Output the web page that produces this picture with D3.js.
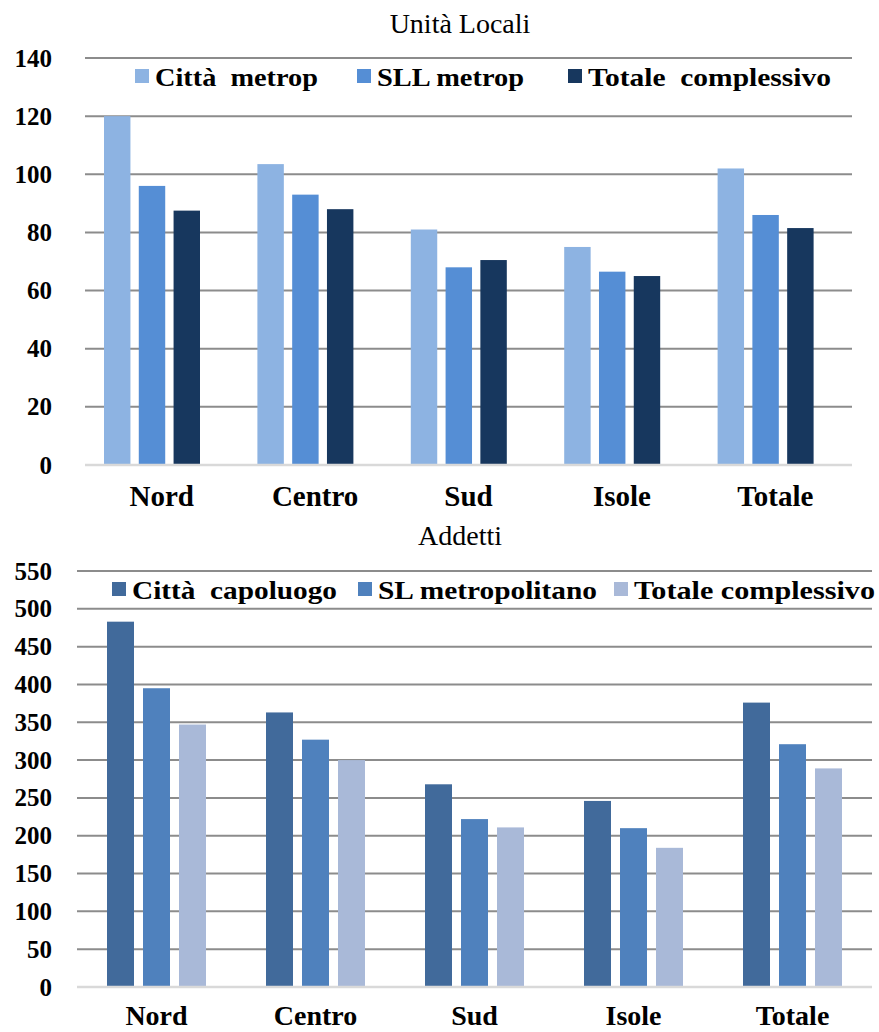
<!DOCTYPE html>
<html><head><meta charset="utf-8">
<script src="https://cdn.jsdelivr.net/npm/d3@7"></script>
<style>body{margin:0;background:#fff}svg{display:block}
text{font-family:"Liberation Serif","Times New Roman","DejaVu Serif",serif}</style>
</head><body>
<script>
const categories = ["Nord","Centro","Sud","Isole","Totale"];
// Chart 1: Unità Locali
const ulSeries = ["Città  metrop","SLL metrop","Totale  complessivo"];
const ulCitta  = [120, 103.5, 81, 75, 102];
const ulSLL    = [96, 93, 68, 66.5, 86];
const ulTotale = [87.5, 88, 70.5, 65, 81.5];
const ulTicks  = [0,20,40,60,80,100,120,140];
// Chart 2: Addetti
const adSeries = ["Città  capoluogo","SL metropolitano","Totale complessivo"];
const adCitta  = [483, 363, 268, 246, 376];
const adSL     = [395, 327, 222, 210, 321];
const adTotale = [347, 300, 211, 184, 289];
const adTicks  = [0,50,100,150,200,250,300,350,400,450,500,550];

const W=879,H=1032;
const svg=d3.select("body").append("svg").attr("width",W).attr("height",H);

function chart(cfg){
  const g=svg.append("g");
  const x=d3.scaleBand().domain(categories).range([cfg.x0,cfg.x1]);
  const y=d3.scaleLinear().domain([0,cfg.max]).range([cfg.yb,cfg.yt]);
  g.append("text").attr("x",cfg.titleX).attr("y",cfg.titleY).attr("text-anchor","middle")
   .style("font-size","28px").attr("fill","#000").text(cfg.title);
  const yAxis=d3.axisLeft(y).tickValues(cfg.ticks).tickSize(0).tickPadding(0);
  const ax=g.append("g").attr("transform",`translate(${cfg.tickX},0)`).call(yAxis);
  ax.attr("font-family",null).attr("font-size",null);
  ax.select(".domain").remove();
  ax.selectAll("text").style("font-size","25px").style("font-weight","bold").attr("fill","#000");
  g.append("g").selectAll("line").data(cfg.ticks.filter(t=>t>0)).join("line")
   .attr("x1",cfg.x0).attr("x2",cfg.x1).attr("y1",d=>y(d)).attr("y2",d=>y(d))
   .attr("stroke","#8c8c8c").attr("stroke-width",2);
  const inner=d3.scaleBand().domain([0,1,2]).range([cfg.groupOff,cfg.groupOff+cfg.groupW]).paddingInner(cfg.innerPad);
  cfg.data.forEach((arr,si)=>{
    g.append("g").selectAll("rect").data(arr).join("rect")
     .attr("x",(d,i)=>x(categories[i])+inner(si))
     .attr("width",inner.bandwidth())
     .attr("y",d=>y(d)).attr("height",d=>y(0)-y(d))
     .attr("fill",cfg.colors[si]);
  });
  g.append("line").attr("x1",cfg.x0).attr("x2",cfg.x1).attr("y1",y(0)).attr("y2",y(0))
   .attr("stroke","#d9d9d9").attr("stroke-width",2.5);
  const xa=g.append("g").attr("transform",`translate(0,${cfg.catY})`)
   .call(d3.axisBottom(x).tickSize(0).tickPadding(0));
  xa.attr("font-family",null).attr("font-size",null);
  xa.select(".domain").remove();
  xa.selectAll("text").style("font-size",cfg.catFont+"px").style("font-weight","bold").attr("fill","#000").attr("dy","0");
  const lg=g.append("g");
  cfg.series.forEach((s,i)=>{
    lg.append("rect").attr("x",cfg.legX[i]).attr("y",cfg.legY-17).attr("width",14).attr("height",14).attr("fill",cfg.colors[i]);
    lg.append("text").attr("x",cfg.legX[i]+20).attr("y",cfg.legY)
      .style("font-size",cfg.legFont+"px").style("font-weight","bold").attr("fill","#000")
      .attr("textLength",cfg.legW[i]).attr("lengthAdjust","spacingAndGlyphs")
      .style("white-space","pre").text(s);
  });
}

chart({title:"Unità Locali",titleX:460,titleY:33,x0:85,x1:852,yt:58,yb:465,max:140,ticks:ulTicks,tickX:52,
  data:[ulCitta,ulSLL,ulTotale],colors:["#8DB3E2","#558ED5","#17375E"],series:ulSeries,
  groupOff:19,groupW:96,innerPad:0.24,catY:506,catFont:29,legX:[135,357,568],legW:[163,147,243],legY:86,legFont:25});

chart({title:"Addetti",titleX:460,titleY:545,x0:77,x1:872,yt:571,yb:987,max:550,ticks:adTicks,tickX:52,
  data:[adCitta,adSL,adTotale],colors:["#416A9B","#4F81BD","#A9B9D8"],series:adSeries,
  groupOff:30,groupW:99,innerPad:0.25,catY:1025,catFont:28,legX:[112,358,614],legW:[205,219,241],legY:599,legFont:25});
</script>
</body></html>
